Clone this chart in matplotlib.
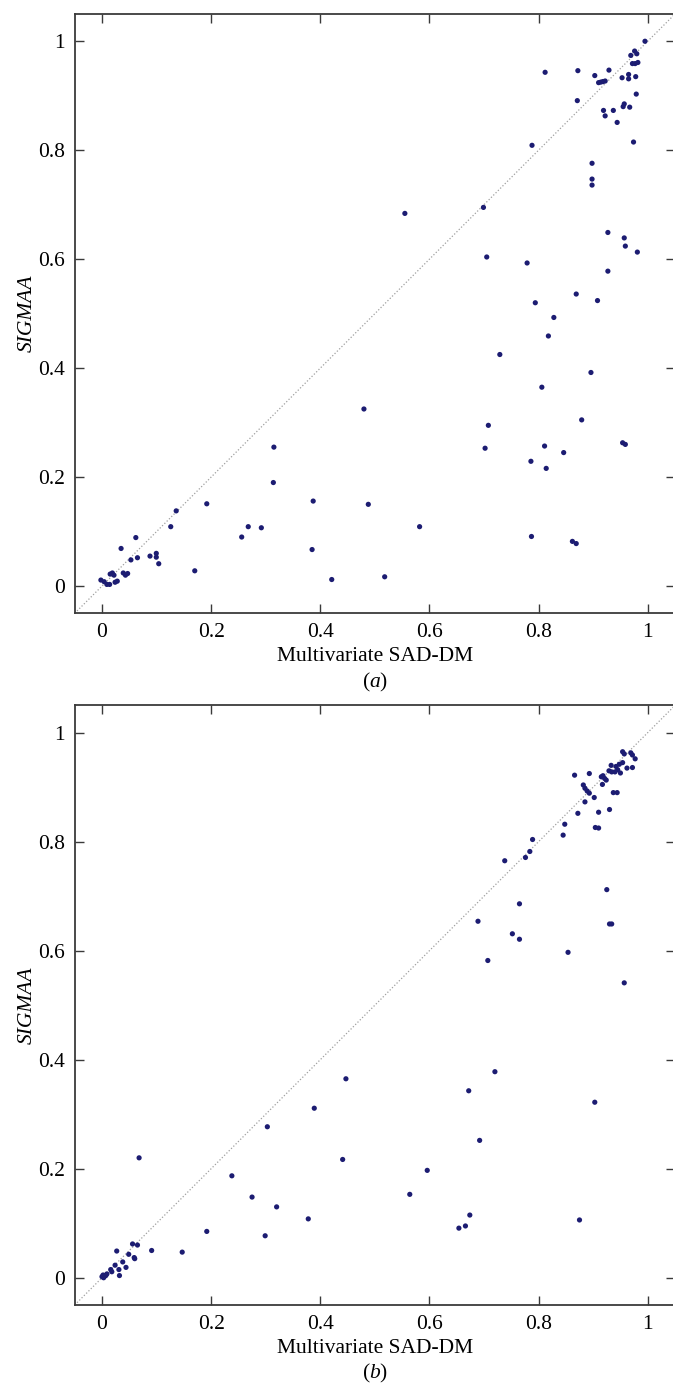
import matplotlib
matplotlib.use("Agg")
import matplotlib.pyplot as plt
from matplotlib.ticker import FuncFormatter

# ---------------- data ----------------
a_x = [0.995, 0.976, 0.980, 0.969, 0.972, 0.977, 0.982, 0.812, 0.872, 0.903,
       0.929, 0.910, 0.914, 0.918, 0.922, 0.953, 0.965, 0.965, 0.978, 0.871,
       0.979, 0.919, 0.922, 0.937, 0.957, 0.955, 0.967, 0.944, 0.788, 0.974,
       0.898, 0.898, 0.898, 0.699, 0.555, 0.927, 0.957, 0.959, 0.981, 0.705,
       0.779, 0.927, 0.869, 0.794, 0.908, 0.828, 0.818, 0.729, 0.896, 0.806,
       0.879, 0.708, 0.702, 0.811, 0.846, 0.954, 0.959, 0.786, 0.814, 0.582,
       0.787, 0.862, 0.869, 0.518, 0.480, 0.315, 0.314, 0.387, 0.488, 0.192,
       0.136, 0.126, 0.062, 0.256, 0.268, 0.292, 0.035, 0.385, 0.053, 0.065,
       0.088, 0.0995, 0.0995, 0.104, 0.170, 0.421,
       -0.002, 0.004, 0.009, 0.014, 0.015, 0.019, 0.022, 0.024, 0.028, 0.039,
       0.043, 0.047]
a_y = [1.000, 0.982, 0.977, 0.974, 0.959, 0.959, 0.961, 0.943, 0.946, 0.937,
       0.947, 0.924, 0.925, 0.926, 0.927, 0.933, 0.939, 0.931, 0.935, 0.891,
       0.903, 0.873, 0.863, 0.873, 0.885, 0.880, 0.879, 0.851, 0.809, 0.815,
       0.776, 0.747, 0.736, 0.695, 0.684, 0.649, 0.639, 0.624, 0.613, 0.604,
       0.593, 0.578, 0.536, 0.520, 0.524, 0.493, 0.459, 0.425, 0.392, 0.365,
       0.305, 0.295, 0.253, 0.257, 0.245, 0.263, 0.260, 0.229, 0.216, 0.109,
       0.091, 0.082, 0.078, 0.017, 0.325, 0.255, 0.190, 0.156, 0.150, 0.151,
       0.138, 0.109, 0.089, 0.090, 0.109, 0.107, 0.069, 0.067, 0.048, 0.052,
       0.055, 0.060, 0.053, 0.041, 0.028, 0.012,
       0.011, 0.008, 0.003, 0.003, 0.022, 0.024, 0.020, 0.007, 0.009, 0.024,
       0.020, 0.023]

b_x = [0.954, 0.957, 0.969, 0.972, 0.977, 0.933, 0.942, 0.945, 0.948, 0.950,
       0.940, 0.954, 0.962, 0.972, 0.929, 0.934, 0.915, 0.918, 0.921, 0.924,
       0.893, 0.866, 0.917, 0.882, 0.885, 0.889, 0.893, 0.902, 0.937, 0.944,
       0.885, 0.930, 0.872, 0.910, 0.904, 0.910, 0.848, 0.845, 0.789, 0.784,
       0.776, 0.738, 0.925, 0.765, 0.930, 0.934, 0.752, 0.765, 0.689, 0.854,
       0.707, 0.957, 0.720, 0.903, 0.672, 0.447, 0.389, 0.303, 0.692, 0.441,
       0.596, 0.238, 0.275, 0.564, 0.674, 0.666, 0.654, 0.875, 0.068, 0.320,
       0.378, 0.192, 0.299, 0.091, 0.147, 0.027, 0.056, 0.065, 0.049, 0.059,
       0.060, 0.038, 0.024, 0.044, 0.016, 0.018, 0.031, 0.032, 0.009, 0.000,
       0.003, 0.005, 0.007, 0.002]
b_y = [0.965, 0.961, 0.963, 0.959, 0.952, 0.940, 0.938, 0.932, 0.942, 0.926,
       0.928, 0.945, 0.935, 0.936, 0.930, 0.928, 0.919, 0.921, 0.916, 0.913,
       0.925, 0.922, 0.905, 0.904, 0.898, 0.893, 0.889, 0.881, 0.890, 0.890,
       0.873, 0.859, 0.852, 0.854, 0.826, 0.825, 0.832, 0.812, 0.804, 0.782,
       0.771, 0.765, 0.712, 0.686, 0.649, 0.649, 0.631, 0.621, 0.654, 0.597,
       0.582, 0.541, 0.378, 0.322, 0.343, 0.365, 0.311, 0.277, 0.252, 0.217,
       0.197, 0.187, 0.148, 0.153, 0.115, 0.095, 0.091, 0.106, 0.220, 0.130,
       0.108, 0.085, 0.077, 0.050, 0.047, 0.049, 0.062, 0.060, 0.043, 0.037,
       0.035, 0.029, 0.023, 0.019, 0.015, 0.011, 0.015, 0.004, 0.007, 0.002,
       0.000, 0.003, 0.004, 0.005]

ticks = [0, 0.2, 0.4, 0.6, 0.8, 1]
lims = (-0.05, 1.05)
xlabel = "Multivariate SAD-DM"
ylabel = "SIGMAA"
panel_labels = ["a", "b"]

# ---------------- style ----------------
plt.rcParams["font.family"] = ["Liberation Serif", "DejaVu Serif"]
plt.rcParams["mathtext.fontset"] = "custom"
plt.rcParams["mathtext.rm"] = "Liberation Serif"
plt.rcParams["mathtext.it"] = "Liberation Serif:italic"

W, H = 673, 1386
fig = plt.figure(figsize=(W / 100, H / 100), dpi=100)

FS = 15.5
dot_color = "#1c1c72"
spine_color = "#3a3a3a"

def fmt(v, pos):
    s = ("%.1f" % v)
    if s.endswith(".0"):
        s = s[:-2]
    if s == "-0":
        s = "0"
    return s

# axes pixel boxes: (left, top, right, bottom)
boxes = [(74.7, 14.0, 675.0, 613.3), (74.7, 705.4, 675.0, 1305.0)]
data = [(a_x, a_y), (b_x, b_y)]

for (l, t, r, b), (xs, ys), lab in zip(boxes, data, panel_labels):
    ax = fig.add_axes([l / W, 1 - b / H, (r - l) / W, (b - t) / H])
    ax.plot(lims, lims, linestyle=(0, (1, 1.6)), color="#a0a0a0", lw=0.9, zorder=1)
    ax.scatter(xs, ys, s=14, color=dot_color, edgecolors="none", zorder=3)
    ax.set_xlim(lims)
    ax.set_ylim(lims)
    ax.set_xticks(ticks)
    ax.set_yticks(ticks)
    ax.xaxis.set_major_formatter(FuncFormatter(fmt))
    ax.yaxis.set_major_formatter(FuncFormatter(fmt))
    ax.tick_params(direction="in", length=6.5, width=1.0, color=spine_color,
                   top=True, right=True, labelsize=FS, pad=7)
    for sp in ax.spines.values():
        sp.set_color(spine_color)
        sp.set_linewidth(1.3)
    ax.set_xlabel(xlabel, fontsize=FS)
    ax.set_ylabel(ylabel, fontsize=FS, fontstyle="italic")
    ax.xaxis.set_label_coords(0.5, -0.057)
    ax.yaxis.set_label_coords(-0.063, 0.5)
    ax.text(0.5, -0.115, r"($\mathit{%s}$)" % lab, transform=ax.transAxes,
            ha="center", va="center", fontsize=FS)

fig.savefig("out.png", dpi=100)
